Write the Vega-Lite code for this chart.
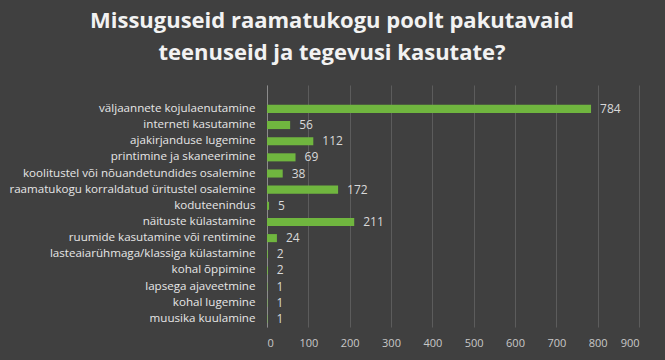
{
  "$schema": "https://vega.github.io/schema/vega-lite/v6.json",
  "width": 372,
  "height": 242,
  "autosize": "none",
  "padding": {"left": 267, "top": 85, "right": 26, "bottom": 33},
  "background": "#404040",
  "title": {
    "text": ["Missuguseid raamatukogu poolt pakutavaid", "teenuseid ja tegevusi kasutate?"],
    "color": "#f2f2f2",
    "fontSize": 22,
    "font": "Open Sans",
    "fontWeight": "bold",
    "anchor": "middle",
    "dx": -121,
    "offset": 20,
    "lineHeight": 32
  },
  "config": {"view": {"stroke": null}},
  "data": {
    "values": [
      {"category": "väljaannete kojulaenutamine ", "value": 784},
      {"category": "interneti kasutamine ", "value": 56},
      {"category": "ajakirjanduse lugemine", "value": 112},
      {"category": "printimine ja skaneerimine", "value": 69},
      {"category": "koolitustel või nõuandetundides osalemine", "value": 38},
      {"category": "raamatukogu korraldatud üritustel osalemine ", "value": 172},
      {"category": "koduteenindus", "value": 5},
      {"category": "näituste külastamine", "value": 211},
      {"category": "ruumide kasutamine või rentimine ", "value": 24},
      {"category": "lasteaiarühmaga/klassiga  külastamine", "value": 2},
      {"category": "kohal õppimine", "value": 2},
      {"category": "lapsega ajaveetmine", "value": 1},
      {"category": "kohal lugemine", "value": 1},
      {"category": "muusika kuulamine", "value": 1}
    ]
  },
  "encoding": {
    "y": {
      "field": "category",
      "type": "nominal",
      "sort": null,
      "title": null,
      "scale": {"paddingInner": 0.5, "paddingOuter": 0.74, "align": 0.83},
      "axis": {
        "ticks": false,
        "domainColor": "#8c8c8c",
        "labelColor": "#e6e6e6",
        "labelFontSize": 11.6,
        "labelFont": "Open Sans",
        "labelPadding": 12,
        "labelLimit": 300
      }
    },
    "x": {
      "field": "value",
      "type": "quantitative",
      "title": null,
      "scale": {"domain": [0, 900], "nice": false},
      "axis": {
        "values": [0, 100, 200, 300, 400, 500, 600, 700, 800, 900],
        "domain": false,
        "ticks": false,
        "gridColor": "#5c5c5c",
        "labelColor": "#c8c8c8",
        "labelFontSize": 11,
        "labelFont": "Open Sans",
        "labelPadding": 10
      }
    }
  },
  "layer": [
    {"mark": {"type": "bar", "color": "#70B63F"}},
    {
      "mark": {"type": "text", "align": "left", "dx": 9, "fontSize": 12, "font": "Open Sans", "color": "#d9d9d9"},
      "encoding": {"text": {"field": "value", "type": "quantitative"}}
    }
  ]
}
